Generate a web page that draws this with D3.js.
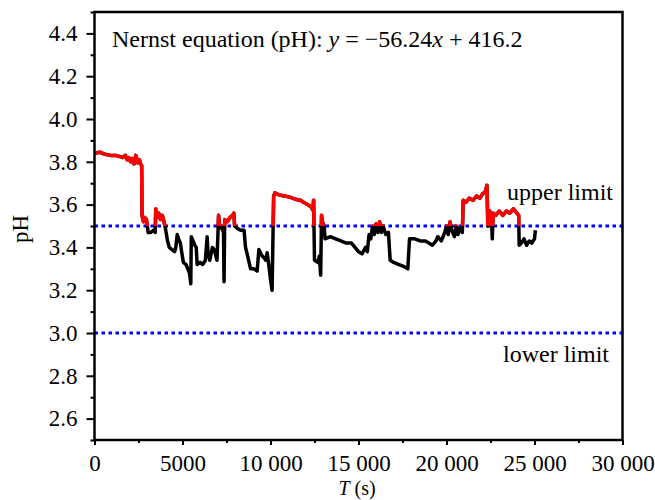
<!DOCTYPE html>
<html>
<head>
<meta charset="utf-8">
<script src="https://cdn.jsdelivr.net/npm/d3@7"></script>
<style>
  body { margin: 0; background: #fff; }
  svg { display: block; }
  svg text { font-family: "Liberation Serif", "Times New Roman", serif; fill: #000; }
</style>
</head>
<body>
<svg id="chart" width="655" height="500"></svg>
<script>
// pH readings over time
const timeSec = [
  0, 300, 600, 900, 1200, 1400, 1600, 1750, 1850, 1950, 2050, 2150, 2250, 2350, 2450, 2550, 2620, 2680,
  2700, 2780, 2850, 2950, 3000, 3050, 3200, 3350, 3450,
  3480, 3560, 3650, 3750, 3850, 3950, 4000,
  4050, 4150, 4250, 4400, 4550, 4620, 4700, 4780, 4880, 4950, 5050, 5200, 5300, 5400, 5470, 5500,
  5600, 5700, 5780, 5830, 6000, 6150, 6300, 6400, 6450, 6550, 6700, 6800, 6900, 6960,
  7050, 7120, 7200, 7330, 7360, 7400, 7550, 7700, 7850, 7920,
  7960, 8100, 8300, 8500, 8580, 8700, 8870, 9050, 9240, 9340, 9450, 9530, 9650, 9720, 9810, 9900, 10000, 10090,
  10180, 10250, 10500, 10800, 11100, 11400, 11700, 11900, 12100, 12300, 12400, 12450,
  12500, 12700, 12780, 12850, 12900, 12950, 13050, 13100,
  13400, 13700, 14000, 14300, 14600, 14800, 15000, 15200, 15400, 15500, 15600, 15700, 15800, 15900,
  16000, 16100, 16200, 16300, 16400, 16550, 16700, 16800, 17000, 17300, 17600, 17800, 17900,
  18200, 18500, 18800, 19000, 19200, 19400, 19500, 19700, 19900, 20000, 20100, 20200, 20300,
  20450, 20550, 20650, 20750, 20900,
  20950, 21100, 21300, 21500, 21700, 21900, 22050, 22200, 22300, 22350, 22450, 22550, 22600, 22650,
  22800, 23000, 23200, 23400, 23600, 23800, 24000, 24100, 24130,
  24250, 24400, 24550, 24700, 24850, 25000, 25050
];
const phValue = [
  3.84, 3.845, 3.835, 3.83, 3.83, 3.825, 3.82, 3.83, 3.81, 3.82, 3.80, 3.815, 3.79, 3.83, 3.795, 3.81, 3.79, 3.78,
  3.55, 3.52, 3.54, 3.53, 3.50, 3.47, 3.47, 3.48, 3.47,
  3.58, 3.54, 3.56, 3.53, 3.55, 3.52, 3.50,
  3.48, 3.43, 3.40, 3.39, 3.38, 3.40, 3.46, 3.44, 3.42, 3.38, 3.33, 3.32, 3.30, 3.28, 3.23, 3.45,
  3.43, 3.41, 3.40, 3.32, 3.33, 3.32, 3.34, 3.45, 3.37, 3.34, 3.40, 3.39, 3.36, 3.34,
  3.55, 3.49, 3.50, 3.47, 3.24, 3.53, 3.52, 3.54, 3.55, 3.56,
  3.50, 3.49, 3.48, 3.48, 3.40, 3.36, 3.30, 3.30, 3.29, 3.39, 3.37, 3.36, 3.35, 3.34, 3.375, 3.32, 3.25, 3.20,
  3.64, 3.655, 3.645, 3.64, 3.635, 3.625, 3.62, 3.61, 3.60, 3.59, 3.575, 3.62,
  3.34, 3.33, 3.36, 3.27, 3.55, 3.52, 3.50, 3.44,
  3.45, 3.44, 3.43, 3.42, 3.42, 3.40, 3.38, 3.37, 3.40, 3.38, 3.46, 3.44, 3.50, 3.46,
  3.51, 3.47, 3.52, 3.47, 3.50, 3.46, 3.47, 3.34, 3.33, 3.32, 3.31, 3.30, 3.44,
  3.44, 3.43, 3.43, 3.42, 3.41, 3.43, 3.45, 3.43, 3.47, 3.50, 3.46, 3.52, 3.48,
  3.45, 3.50, 3.46, 3.49, 3.47,
  3.62, 3.61, 3.63, 3.62, 3.64, 3.63, 3.65, 3.66, 3.69, 3.50, 3.57, 3.55, 3.44, 3.56,
  3.55, 3.57, 3.55, 3.57, 3.56, 3.58, 3.56, 3.55, 3.41,
  3.42, 3.44, 3.41, 3.43, 3.42, 3.44, 3.48
];

const yTicks = [2.6, 2.8, 3.0, 3.2, 3.4, 3.6, 3.8, 4.0, 4.2, 4.4];
const yMinorTicks = [2.5, 2.7, 2.9, 3.1, 3.3, 3.5, 3.7, 3.9, 4.1, 4.3, 4.5];
const xTicks = [0, 5000, 10000, 15000, 20000, 25000, 30000];
const xTickLabels = ["0", "5000", "10 000", "15 000", "20 000", "25 000", "30 000"];
const xMinorTicks = [2500, 7500, 12500, 17500, 22500, 27500];
const limitValues = [3.5, 3.0];
const limitLabels = ["upper limit", "lower limit"];
const threshold = 3.5;

const series = timeSec.map((t, i) => ({ t: t, ph: phValue[i] }));

const svg = d3.select("#chart");
const plot = { left: 94.5, right: 622.5, top: 12, bottom: 440 };
const serif = '"Liberation Serif", "Times New Roman", serif';

const x = d3.scaleLinear().domain([0, 30000]).range([plot.left, plot.right]);
const y = d3.scaleLinear().domain([2.5, 4.5]).range([plot.bottom, plot.top]);

// y axis
const yAxis = svg.append("g").attr("transform", `translate(${plot.left},0)`);
yAxis.call(d3.axisLeft(y).tickValues(yTicks).tickFormat(d3.format(".1f")).tickSize(8).tickPadding(9));
yAxis.append("g").call(d3.axisLeft(y).tickValues(yMinorTicks).tickFormat("").tickSize(4));
yAxis.selectAll(".domain").remove();
yAxis.attr("font-family", null).selectAll("g").attr("font-family", null);
yAxis.selectAll("line").attr("stroke", "#000").attr("stroke-width", 2);
yAxis.selectAll("text").style("font-family", serif).style("font-size", "23px");

// x axis
const xAxis = svg.append("g").attr("transform", `translate(0,${plot.bottom})`);
xAxis.call(d3.axisBottom(x).tickValues(xTicks).tickFormat((d, i) => xTickLabels[i]).tickSize(5).tickPadding(10));
xAxis.append("g").call(d3.axisBottom(x).tickValues(xMinorTicks).tickFormat("").tickSize(3));
xAxis.selectAll(".domain").remove();
xAxis.attr("font-family", null).selectAll("g").attr("font-family", null);
xAxis.selectAll("line").attr("stroke", "#000").attr("stroke-width", 2);
xAxis.selectAll("text").style("font-family", serif).style("font-size", "23px");

// limit lines
svg.selectAll(".limit")
  .data(limitValues)
  .enter()
  .append("line")
  .attr("class", "limit")
  .attr("x1", plot.left)
  .attr("x2", plot.right)
  .attr("y1", (d) => y(d))
  .attr("y2", (d) => y(d))
  .attr("stroke", "#0000ff")
  .attr("stroke-width", 3)
  .attr("stroke-dasharray", "3.5,3.5");

// trace: black everywhere, red above the upper limit
const line = d3.line().x((d) => x(d.t)).y((d) => y(d.ph));

svg.append("clipPath")
  .attr("id", "above")
  .append("rect")
  .attr("x", plot.left)
  .attr("y", plot.top)
  .attr("width", plot.right - plot.left)
  .attr("height", y(threshold) - plot.top);

svg.append("path")
  .datum(series)
  .attr("fill", "none")
  .attr("stroke", "#000")
  .attr("stroke-width", 3.5)
  .attr("stroke-linejoin", "round")
  .attr("d", line);

svg.append("path")
  .datum(series)
  .attr("fill", "none")
  .attr("stroke", "#ff0000")
  .attr("stroke-width", 3.5)
  .attr("stroke-linejoin", "round")
  .attr("clip-path", "url(#above)")
  .attr("d", line);

// frame
svg.append("rect")
  .attr("x", plot.left)
  .attr("y", plot.top)
  .attr("width", plot.right - plot.left)
  .attr("height", plot.bottom - plot.top)
  .attr("fill", "none")
  .attr("stroke", "#000")
  .attr("stroke-width", 2.5);

// limit labels
svg.selectAll(".limit-label")
  .data(limitValues)
  .enter()
  .append("text")
  .attr("class", "limit-label")
  .attr("x", (d, i) => (i === 0 ? 613 : 609))
  .attr("y", (d, i) => (i === 0 ? y(d) - 26 : y(d) + 29))
  .attr("text-anchor", "end")
  .style("font-size", "24px")
  .text((d, i) => limitLabels[i]);

// equation annotation
const eq = svg.append("text")
  .attr("x", 112)
  .attr("y", 47)
  .style("font-size", "24px");
eq.append("tspan").text("Nernst equation (pH): ");
eq.append("tspan").attr("font-style", "italic").text("y");
eq.append("tspan").text(" = \u221256.24");
eq.append("tspan").attr("font-style", "italic").text("x");
eq.append("tspan").text(" + 416.2");

// axis titles
const xt = svg.append("text")
  .attr("x", 357)
  .attr("y", 495)
  .attr("text-anchor", "middle")
  .style("font-size", "20px");
xt.append("tspan").attr("font-style", "italic").text("T");
xt.append("tspan").text(" (s)");

svg.append("text")
  .attr("transform", "translate(28,229) rotate(-90)")
  .attr("text-anchor", "middle")
  .style("font-size", "23px")
  .text("pH");
</script>
</body>
</html>
